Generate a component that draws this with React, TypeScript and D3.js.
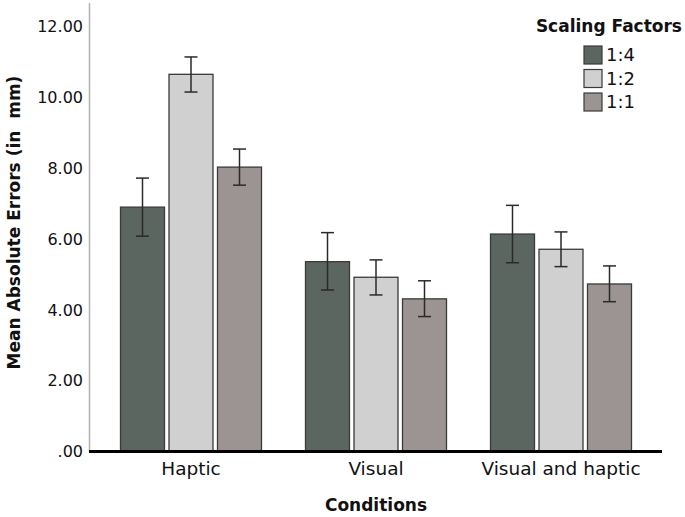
import React from "react";
import * as d3 from "d3";

const categories = ["Haptic", "Visual", "Visual and haptic"];
const series = ["1:4", "1:2", "1:1"];
const means: number[][] = [
  [6.9, 5.36, 6.14],
  [10.65, 4.92, 5.71],
  [8.03, 4.31, 4.73],
];
const errLow: number[][] = [
  [6.08, 4.56, 5.33],
  [10.15, 4.42, 5.22],
  [7.52, 3.81, 4.23],
];
const errHigh: number[][] = [
  [7.72, 6.18, 6.95],
  [11.14, 5.41, 6.2],
  [8.54, 4.82, 5.24],
];
const yTicks = [0, 2, 4, 6, 8, 10, 12];
const colors = ["#5b6660", "#d0d0d0", "#9b9493"];

const W = 685;
const H = 517;
const FONT = "'DejaVu Sans', sans-serif";

export default function App() {
  const y = d3.scaleLinear().domain([0, 12]).range([451.5, 26.5]);
  const x0 = d3.scaleBand<string>().domain(categories).range([98.5, 653.5]);
  const innerW = 141;
  const x1 = d3
    .scaleBand<string>()
    .domain(series)
    .range([0, innerW])
    .paddingInner(4.5 / 48.5);
  const offset = (x0.bandwidth() - innerW) / 2;
  const fmt = (v: number) => (v === 0 ? ".00" : v.toFixed(2));
  const capW = 13;

  return (
    <svg
      width={W}
      height={H}
      style={{ position: "absolute", left: 0, top: 0, background: "#fff" }}
      fontFamily={FONT}
    >
      <rect x={0} y={0} width={W} height={H} fill="#fff" />
      {/* y axis line */}
      <line x1={89.5} x2={89.5} y1={3} y2={451.5} stroke="#b5b5b5" strokeWidth={1.6} />
      {/* y ticks labels */}
      {yTicks.map((t) => (
        <text
          key={t}
          x={83}
          y={y(t)}
          dy="0.36em"
          textAnchor="end"
          fontSize={16}
          fill="#111"
        >
          {fmt(t)}
        </text>
      ))}
      {/* bars */}
      {series.map((s, si) =>
        categories.map((c, ci) => {
          const bx = (x0(c) as number) + offset + (x1(s) as number);
          const bw = x1.bandwidth();
          const top = y(means[si][ci]);
          const cx = bx + bw / 2;
          return (
            <g key={s + c}>
              <rect
                x={bx}
                y={top}
                width={bw}
                height={y(0) - top}
                fill={colors[si]}
                stroke="#3a3a3a"
                strokeWidth={1.3}
              />
              <line x1={cx} x2={cx} y1={y(errLow[si][ci])} y2={y(errHigh[si][ci])} stroke="#2a2a2a" strokeWidth={1.5} />
              <line x1={cx - capW / 2} x2={cx + capW / 2} y1={y(errLow[si][ci])} y2={y(errLow[si][ci])} stroke="#2a2a2a" strokeWidth={1.5} />
              <line x1={cx - capW / 2} x2={cx + capW / 2} y1={y(errHigh[si][ci])} y2={y(errHigh[si][ci])} stroke="#2a2a2a" strokeWidth={1.5} />
            </g>
          );
        })
      )}
      {/* x axis line */}
      <line x1={89} x2={662} y1={451.5} y2={451.5} stroke="#000" strokeWidth={2.8} />
      {/* category labels */}
      {categories.map((c) => (
        <text
          key={c}
          x={(x0(c) as number) + x0.bandwidth() / 2}
          y={475}
          textAnchor="middle"
          fontSize={18.5}
          fill="#111"
        >
          {c}
        </text>
      ))}
      {/* axis titles */}
      <text x={376} y={511} textAnchor="middle" fontSize={17} fontWeight="bold" fill="#111">
        Conditions
      </text>
      <text
        transform={`translate(20,222.5) rotate(-90)`}
        textAnchor="middle"
        fontSize={17}
        fontWeight="bold"
        fill="#111"
        style={{ whiteSpace: "pre" }}
      >
        {"Mean Absolute Errors (in  mm)"}
      </text>
      {/* legend */}
      <text x={682} y={32} textAnchor="end" fontSize={17} fontWeight="bold" fill="#111">
        Scaling Factors
      </text>
      {series.map((s, i) => (
        <g key={s} transform={`translate(584,${46 + i * 23.5})`}>
          <rect x={0} y={0} width={18} height={18} fill={colors[i]} stroke="#3a3a3a" strokeWidth={1.2} />
          <text x={22} y={9} dy="0.36em" fontSize={18} fill="#111">
            {s}
          </text>
        </g>
      ))}
    </svg>
  );
}
